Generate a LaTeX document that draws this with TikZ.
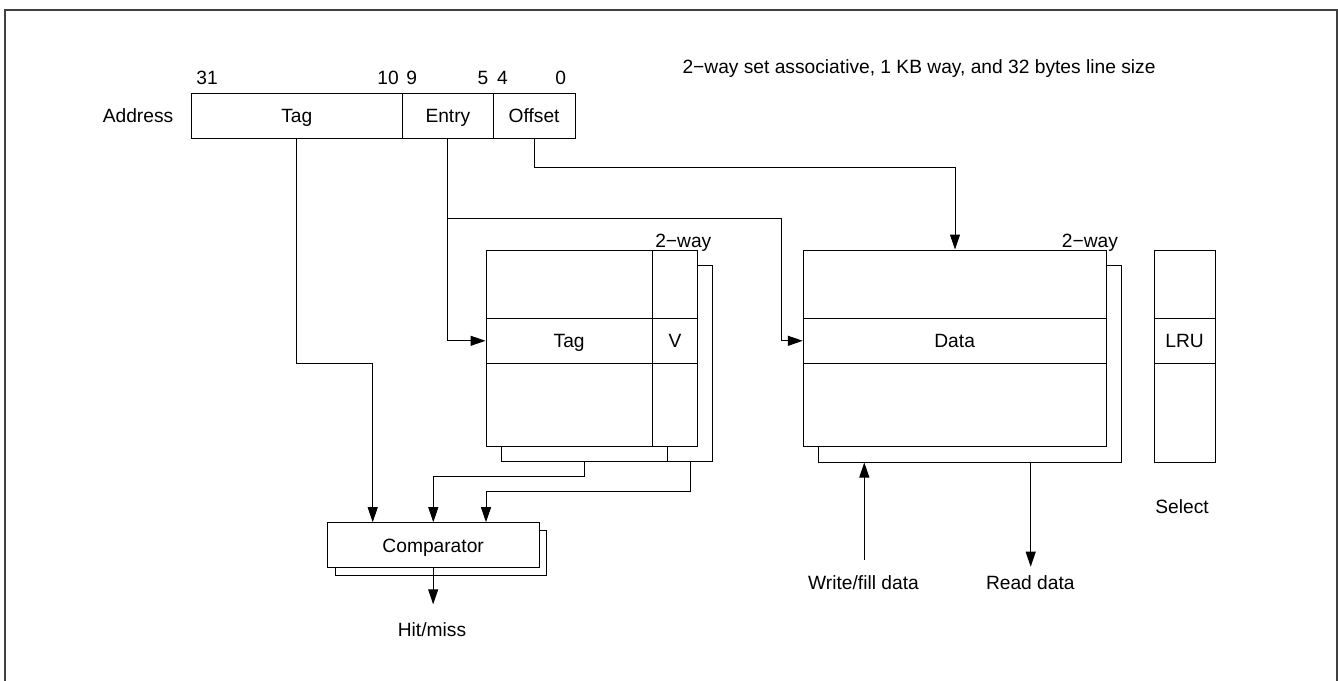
\documentclass[tikz,border=0pt]{standalone}
\usepackage{fontspec}
\setmainfont{Liberation Sans}
\usetikzlibrary{arrows.meta}
\begin{document}
\begin{tikzpicture}[x=0.5pt,y=-0.5pt,
  font=\fontsize{9.6pt}{11pt}\selectfont,
  cell/.style={draw, fill=white, inner sep=0pt, line width=0.5pt, text height=6.87pt, text depth=0pt},
  lbl/.style={inner sep=0pt, text height=6.87pt, text depth=0pt},
  conn/.style={line width=0.5pt},
  arr/.style={conn, -{Triangle[length=7.5pt,width=5pt]}},
  frame/.style={line width=1pt, draw=black!75}]
\useasboundingbox (0,0) rectangle (1338,680);
% outer frame (bottom edge lies outside the picture)
\draw[frame] (4.5,682) -- (4.5,10) -- (1336.5,10) -- (1336.5,682);

% title
\node[lbl] (title) at (919,67) {2−way set associative, 1 KB way, and 32 bytes line size};

% address register
\node[lbl] (addrlbl) at (138,116) {Address};
\node[cell, minimum width=105.8pt, minimum height=22.5pt] (atag) at (296.8,116) {Tag};
\node[cell, minimum width=45.3pt, minimum height=22.5pt] (aentry) at (447.9,116) {Entry};
\node[cell, minimum width=40.9pt, minimum height=22.5pt] (aoff) at (534.1,116) {Offset};
\node[lbl, anchor=west] (b31) at (196,77.5) {31};
\node[lbl, anchor=east] (b10) at (399.2,77.5) {10};
\node[lbl, anchor=west] (b9) at (406,77.5) {9};
\node[lbl, anchor=east] (b5) at (488.7,77.5) {5};
\node[lbl, anchor=west] (b4) at (496.6,77.5) {4};
\node[lbl, anchor=east] (b0) at (566.5,77.5) {0};

% tag array (second way behind)
\node[cell, minimum width=105.85pt, minimum height=98.35pt] (tshadow) at (606.85,363.35) {};
\draw[conn] (667.7,265) -- (667.7,461.7);
\node[cell, minimum width=83.15pt, minimum height=34.15pt] (ttop) at (569.15,284.15) {};
\node[cell, minimum width=22.7pt, minimum height=34.15pt] (vtop) at (675,284.15) {};
\node[cell, minimum width=83.15pt, minimum height=22.5pt] (tmid) at (569.15,340.8) {Tag};
\node[cell, minimum width=22.7pt, minimum height=22.5pt] (vmid) at (675,340.8) {V};
\node[cell, minimum width=83.15pt, minimum height=41.7pt] (tbot) at (569.15,405) {};
\node[cell, minimum width=22.7pt, minimum height=41.7pt] (vbot) at (675,405) {};
\node[lbl, anchor=east] (tway) at (711.7,240.8) {2−way};

% data array (second way behind)
\node[cell, minimum width=151.15pt, minimum height=98.5pt] (dshadow) at (969.85,363.5) {};
\node[cell, minimum width=151.35pt, minimum height=34.15pt] (dtop) at (954.65,284.15) {};
\node[cell, minimum width=151.35pt, minimum height=22.5pt] (dmid) at (954.65,340.8) {Data};
\node[cell, minimum width=151.35pt, minimum height=41.7pt] (dbot) at (954.65,405) {};
\node[lbl, anchor=east] (dway) at (1118.3,240.3) {2−way};

% LRU
\node[cell, minimum width=30.35pt, minimum height=34.15pt] (ltop) at (1184.65,284.15) {};
\node[cell, minimum width=30.35pt, minimum height=22.5pt] (lmid) at (1184.65,340.8) {LRU};
\node[cell, minimum width=30.35pt, minimum height=49.7pt] (lbot) at (1184.65,413) {};
\node[lbl] (sel) at (1182,507) {Select};

% comparator (second one behind)
\node[cell, minimum width=105.85pt, minimum height=22.65pt] (cshadow) at (440.85,552.65) {};
\node[cell, minimum width=105.85pt, minimum height=22.5pt] (comp) at (433.15,545.2) {Comparator};
\node[lbl] (hit) at (432,629.3) {Hit/miss};

% bottom labels
\node[lbl] (wr) at (863.5,582.7) {Write/fill data};
\node[lbl] (rd) at (1030.3,582.7) {Read data};

% connectors
\coordinate (t1) at (372.7,363.3);
\draw[arr] (atag.south) |- (t1) -- (t1 |- comp.north);

\draw[arr] (aentry.south) |- (tmid.west);
\coordinate (e1) at (447.9,218);
\coordinate (e2) at (781,218);
\draw[arr] (e1) -- (e2) |- (dmid.west);

\coordinate (o1) at (955,167);
\draw[arr] (aoff.south) |- (o1) -- (o1 |- dtop.north);

\coordinate (s1) at (584.3,461.7);
\coordinate (s2) at (433.3,476.7);
\draw[arr] (s1) |- (s2) -- (s2 |- comp.north);
\coordinate (v1) at (690,461.7);
\coordinate (v2) at (486,491.7);
\draw[arr] (v1) |- (v2) -- (v2 |- comp.north);

\coordinate (h1) at (433.15,604.3);
\draw[arr] (comp.south) -- (h1);

\coordinate (w1) at (864.3,560);
\draw[arr] (w1) -- (w1 |- dshadow.south);
\coordinate (r1) at (1030.7,566.7);
\draw[arr] (r1 |- dshadow.south) -- (r1);
\end{tikzpicture}
\end{document}
